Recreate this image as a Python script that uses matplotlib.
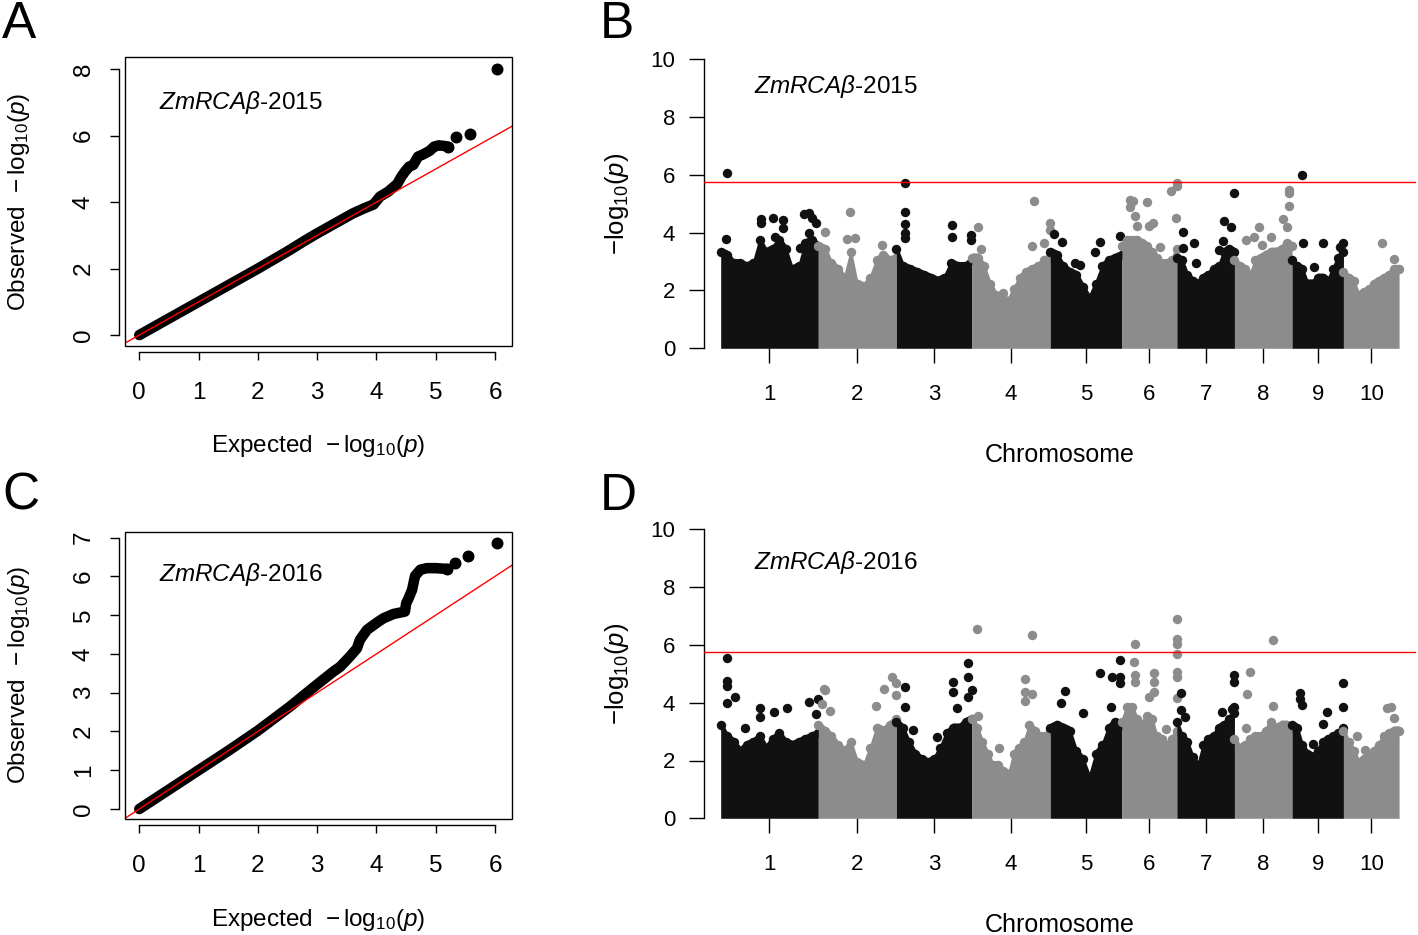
import numpy as np
import matplotlib
matplotlib.use("Agg")
import matplotlib.pyplot as plt
from matplotlib.patches import Rectangle

plt.rcParams['font.family'] = ['Liberation Sans', 'DejaVu Sans']
plt.rcParams['mathtext.fontset'] = 'custom'
plt.rcParams['mathtext.rm'] = 'Liberation Sans'
plt.rcParams['mathtext.it'] = 'Liberation Sans:italic'
plt.rcParams['mathtext.bf'] = 'Liberation Sans:bold'

# ---------------- data ----------------
# QQ plot 2015 (expected, observed -log10 p)
qq2015_expected = [0, 0.5, 1.0, 1.5, 2.0, 2.5, 2.8, 3.0, 3.3, 3.6, 3.8, 3.95, 4.06, 4.2, 4.35,
                   4.42, 4.48, 4.55, 4.62, 4.7, 4.8, 4.9, 4.97, 5.05, 5.15, 5.2]
qq2015_observed = [0, 0.5, 1.0, 1.5, 2.0, 2.52, 2.85, 3.06, 3.36, 3.66, 3.82, 3.93, 4.17, 4.32, 4.55,
                   4.77, 4.92, 5.07, 5.12, 5.37, 5.45, 5.55, 5.67, 5.71, 5.69, 5.67]
qq2015_top_expected = [5.34, 5.57, 6.04]
qq2015_top_observed = [5.97, 6.04, 8.01]

# QQ plot 2016
qq2016_expected = [0, 0.5, 1.0, 1.5, 2.0, 2.54, 2.99, 3.27, 3.39, 3.55, 3.67, 3.72, 3.84, 4.03, 4.12,
                   4.29, 4.48, 4.5, 4.54, 4.6, 4.65, 4.74, 4.85, 5.0, 5.19]
qq2016_observed = [0, 0.5, 1.0, 1.5, 2.02, 2.64, 3.2, 3.54, 3.67, 3.93, 4.14, 4.36, 4.62, 4.83, 4.92,
                   5.03, 5.09, 5.3, 5.43, 5.65, 6.01, 6.17, 6.21, 6.21, 6.19]
qq2016_top_expected = [5.33, 5.55, 6.03]
qq2016_top_observed = [6.34, 6.53, 6.87]

# Manhattan plots
chromosomes = ['1', '2', '3', '4', '5', '6', '7', '8', '9', '10']
chrom_length_mb = [300, 240, 232, 241, 220, 169, 177, 177, 158, 171]
threshold = 5.76

# upper edge of the dense SNP cloud, evenly spaced along each chromosome
cloud_top_2015 = [
    [3.5, 3.4, 3.1, 3.1, 3.0, 3.1, 3.9, 3.5, 3.6, 3.9, 3.6, 2.9, 3.0, 3.8, 3.9, 3.7],
    [3.7, 3.6, 3.1, 2.9, 2.6, 3.5, 2.4, 2.3, 2.6, 3.2, 3.4, 3.2, 3.3],
    [3.6, 3.0, 2.9, 2.8, 2.7, 2.6, 2.5, 2.6, 3.1, 3.0, 3.0, 3.2],
    [3.3, 3.3, 3.0, 2.4, 2.0, 1.85, 1.8, 2.2, 2.6, 2.8, 2.9, 3.0, 3.2, 3.3],
    [3.5, 3.4, 3.0, 2.8, 2.7, 2.3, 1.9, 2.4, 3.0, 3.2, 3.3, 3.4],
    [3.7, 3.9, 3.9, 3.9, 3.8, 3.7, 3.5, 3.3, 3.1, 3.1, 3.2, 3.6],
    [3.3, 3.2, 2.7, 2.5, 2.4, 2.6, 2.7, 2.9, 3.0, 3.5, 3.6, 3.5],
    [3.2, 3.0, 2.9, 2.7, 3.2, 3.3, 3.4, 3.5, 3.5, 3.6, 3.8, 3.7],
    [3.2, 3.0, 2.9, 2.4, 2.4, 2.6, 2.6, 2.5, 2.9, 3.3, 3.5],
    [2.8, 2.6, 2.5, 2.0, 2.1, 2.2, 2.4, 2.5, 2.6, 2.7, 2.9, 2.9],
]
cloud_top_2016 = [
    [3.4, 3.0, 2.8, 2.5, 2.7, 2.8, 3.0, 2.6, 2.9, 3.1, 2.8, 2.7, 2.8, 2.9, 3.0, 3.1],
    [3.4, 3.2, 3.0, 2.7, 2.5, 2.8, 2.1, 2.0, 2.6, 3.3, 3.2, 3.4, 3.6],
    [3.5, 3.3, 2.8, 2.4, 2.2, 2.1, 2.2, 2.6, 3.1, 3.3, 3.3, 3.5, 3.6],
    [3.6, 3.3, 2.8, 2.4, 2.0, 2.0, 1.8, 1.7, 2.4, 2.6, 2.8, 3.4, 3.2, 3.0, 3.0, 3.2],
    [3.3, 3.4, 3.3, 3.2, 2.5, 2.2, 1.6, 2.4, 2.7, 3.3, 3.5, 3.4],
    [3.5, 4.0, 4.0, 3.6, 3.4, 3.7, 3.6, 3.0, 2.9, 2.7, 2.9, 3.2],
    [3.5, 3.0, 2.8, 2.3, 2.0, 2.7, 2.9, 3.0, 3.3, 3.4, 3.6, 3.8],
    [2.9, 2.6, 2.7, 2.9, 3.0, 3.0, 3.2, 3.5, 3.3, 3.4, 3.4, 3.3],
    [3.4, 3.3, 2.7, 2.4, 2.3, 2.5, 2.8, 2.9, 3.0, 3.1, 3.3],
    [3.2, 2.8, 2.5, 2.1, 2.2, 2.3, 2.5, 2.7, 3.0, 3.1, 3.2, 3.2],
]

# individual SNPs standing above the cloud: chromosome, position (Mb), -log10(p)
snp2015_chr = [1]*14 + [2]*5 + [3]*9 + [4]*8 + [5]*7 + [6]*13 + [7]*9 + [8]*10 + [9]*6 + [10]*2
snp2015_pos = [18, 16, 125, 125, 161, 191, 191, 166, 255, 271, 281, 293, 272, 245,
               96, 88, 112, 20, 196,
               25, 25, 25, 25, 25, 172, 172, 230, 230,
               192, 20, 29, 184, 223, 240, 240, 97,
               10, 36, 77, 92, 154, 138, 215,
               25, 34, 25, 77, 39, 46, 97, 82, 118, 152, 168, 168, 166,
               20, 177, 145, 166, 20, 53, 59, 141, 128,
               168, 168, 168, 148, 163, 77, 36, 60, 113, 84,
               30, 33, 96, 68, 148, 158,
               118, 154]
snp2015_val = [6.07, 3.77, 4.46, 4.34, 4.49, 4.44, 4.15, 3.84, 4.63, 4.67, 4.49, 4.32, 4.0, 3.45,
               4.72, 3.77, 3.82, 4.03, 3.57,
               5.70, 4.72, 4.29, 4.0, 3.8, 4.26, 3.84, 3.92, 3.74,
               5.10, 4.2, 3.42, 3.54, 3.65, 4.34, 4.09, 1.9,
               3.95, 3.68, 2.94, 2.88, 3.69, 3.34, 3.89,
               5.13, 5.09, 4.87, 5.05, 4.57, 4.23, 4.34, 4.23, 3.5, 5.42, 5.72, 5.60, 4.52,
               4.03, 5.38, 4.41, 4.2, 3.48, 3.65, 2.94, 3.72, 3.4,
               5.47, 5.36, 4.92, 4.46, 4.2, 4.18, 3.74, 3.84, 3.84, 3.57,
               6.0, 3.65, 3.63, 2.82, 3.5, 3.65,
               3.63, 3.07]

snp2016_chr = [1]*13 + [2]*9 + [3]*11 + [4]*8 + [5]*9 + [6]*16 + [7]*8 + [8]*5 + [9]*8 + [10]*5
snp2016_pos = [20, 18, 20, 45, 18, 122, 122, 165, 204, 272, 300, 293, 76,
               21, 16, 11, 37, 177, 203, 227, 238, 238,
               25, 25, 52, 124, 175, 175, 221, 221, 232, 220, 185,
               15, 184, 164, 164, 164, 186, 82, 18,
               46, 34, 102, 154, 190, 215, 215, 215, 188,
               39, 36, 39, 41, 100, 100, 100, 82, 135, 169, 169, 169, 169, 169, 169, 169,
               12, 12, 26, 138, 169, 177, 177, 177,
               48, 40, 118, 118, 34,
               25, 24, 30, 64, 107, 96, 158, 158,
               43, 67, 133, 146, 154]
snp2016_val = [5.56, 4.76, 4.58, 4.21, 4.0, 3.81, 3.52, 3.69, 3.81, 4.04, 4.12, 3.61, 3.11,
               4.44, 4.46, 3.95, 3.73, 3.9, 4.47, 4.88, 4.69, 4.27,
               4.56, 3.84, 3.06, 2.8, 4.73, 4.38, 5.36, 4.9, 4.44, 4.21, 3.8,
               6.54, 6.34, 4.81, 4.38, 4.07, 4.3, 2.42, 3.54,
               4.42, 3.98, 3.66, 5.02, 4.9, 5.48, 4.9, 4.67, 3.84,
               6.02, 5.4, 4.96, 4.7, 5.04, 4.73, 4.38, 4.21, 3.08, 6.88, 6.19, 6.02, 5.67, 5.07, 4.9, 4.15,
               4.32, 3.75, 3.52, 3.69, 3.77, 4.96, 4.73, 3.86,
               5.07, 4.3, 6.17, 3.9, 3.11,
               4.35, 4.12, 3.92, 2.56, 3.69, 3.26, 4.69, 3.84,
               2.85, 2.36, 3.8, 3.84, 3.46]

# ---------------- figure ----------------
W, H = 1418, 935
fig = plt.figure(figsize=(W / 100, H / 100), dpi=100)


def rect(l, t, r, b):
    return [l / W, 1 - b / H, (r - l) / W, (b - t) / H]


def fx(x):
    return x / W


def fy(y):
    return 1 - y / H


BLACK = '#111111'
GRAY = '#8c8c8c'
TICK_FS_QQ = 17.5
LABEL_FS = 17.5
TITLE_FS = 17.5


def qq_panel(box, exp, obs, top_exp, top_obs, ylim, yticks, title, title_xy):
    ax = fig.add_axes(box)
    ax.set_facecolor('none')
    ax.set_xlim(-0.241, 6.28)
    ax.set_ylim(*ylim)
    ax.plot(exp, obs, color='black', lw=7.6, solid_capstyle='round',
            solid_joinstyle='round', zorder=2)
    ax.plot(exp[-1:], obs[-1:], 'o', color='black', ms=7.6, zorder=2)
    ax.plot(top_exp, top_obs, 'o', color='black', ms=7.6, zorder=2, clip_on=False)
    ax.axline((0, 0), slope=1, color='red', lw=1.0, zorder=3)
    ax.add_patch(Rectangle((0, 0), 1, 1, transform=ax.transAxes, fill=False,
                           lw=1.0, ec='black', clip_on=False, zorder=4))
    for s in ['top', 'right']:
        ax.spines[s].set_visible(False)
    for s in ['left', 'bottom']:
        ax.spines[s].set_position(('outward', 4.3))
        ax.spines[s].set_linewidth(1.0)
    ax.set_xticks(range(7))
    ax.set_yticks(yticks)
    ax.spines['bottom'].set_bounds(0, 6)
    ax.spines['left'].set_bounds(yticks[0], yticks[-1])
    ax.tick_params(axis='x', length=6, width=1.0, pad=15.5, labelsize=TICK_FS_QQ)
    ax.tick_params(axis='y', length=6.5, width=1.0, pad=11, labelsize=TICK_FS_QQ,
                   labelrotation=90)
    for lab in ax.get_yticklabels():
        lab.set_va('center')
    ax.text(title_xy[0], title_xy[1], title, transform=ax.transAxes,
            fontsize=TITLE_FS, ha='left', va='baseline')
    return ax


qq_panel(rect(125, 57.3, 511.7, 345.7), qq2015_expected, qq2015_observed,
         qq2015_top_expected, qq2015_top_observed, (-0.32, 8.36), [0, 2, 4, 6, 8],
         r'$ZmRCAβ$-2015', (0.0887, 0.8197))
qq_panel(rect(125, 531.7, 511.7, 819), qq2016_expected, qq2016_observed,
         qq2016_top_expected, qq2016_top_observed, (-0.258, 7.15), list(range(8)),
         r'$ZmRCAβ$-2016', (0.0887, 0.8284))

cum_start = np.concatenate([[0], np.cumsum(chrom_length_mb)[:-1]])
mids = cum_start + np.array(chrom_length_mb) / 2.0
R_DATA = 0.165  # marker radius in -log10(p) units


def manhattan_panel(box, cloud, s_chr, s_pos, s_val, title, title_xy):
    ax = fig.add_axes(box)
    ax.set_xlim(-51.3, 2137)
    ax.set_ylim(0, 10)
    for i, L in enumerate(chrom_length_mb):
        col = BLACK if i % 2 == 0 else GRAY
        top = np.array(cloud[i])
        xs = cum_start[i] + np.linspace(0, L, len(top))
        ax.fill_between(xs, 0, top, color=col, lw=0, zorder=2)
        ax.scatter(xs, top - R_DATA, s=46, color=col, lw=0, zorder=2)
        sel = [k for k, c in enumerate(s_chr) if c == i + 1]
        px = [cum_start[i] + s_pos[k] for k in sel]
        py = [s_val[k] for k in sel]
        ax.scatter(px, py, s=46, color=col, lw=0, zorder=2)
    ax.axhline(threshold, color='red', lw=1.0, zorder=3)
    for s in ['top', 'right', 'bottom']:
        ax.spines[s].set_visible(False)
    ax.spines['left'].set_linewidth(1.0)
    ax.set_yticks(range(0, 11, 2))
    ax.spines['left'].set_bounds(0, 10)
    ax.set_xticks(mids)
    ax.set_xticklabels(chromosomes)
    ax.tick_params(axis='x', length=10.8, width=1.0, pad=15, labelsize=16)
    ax.tick_params(axis='y', length=10.8, width=1.0, pad=10, labelsize=16)
    ax.text(title_xy[0], title_xy[1], title, transform=ax.transAxes,
            fontsize=TITLE_FS, ha='left', va='baseline')
    return ax


manhattan_panel(rect(704, 59, 1416, 348.3), cloud_top_2015, snp2015_chr, snp2015_pos,
                snp2015_val, r'$ZmRCAβ$-2015', (0.0702, 0.8814))
manhattan_panel(rect(704, 529.3, 1416, 818.3), cloud_top_2016, snp2016_chr, snp2016_pos,
                snp2016_val, r'$ZmRCAβ$-2016', (0.0702, 0.8626))

# axis labels
qq_x = r'Expected  $-\,\mathrm{log}_{10}(p)$'
qq_y = r'Observed  $-\,\mathrm{log}_{10}(p)$'
fig.text(fx(318), fy(452.3), qq_x, fontsize=LABEL_FS, ha='center', va='baseline')
fig.text(fx(318), fy(926), qq_x, fontsize=LABEL_FS, ha='center', va='baseline')
fig.text(fx(25), fy(201.5), qq_y, fontsize=LABEL_FS, ha='center', va='baseline',
         rotation=90, rotation_mode='anchor')
fig.text(fx(25), fy(675), qq_y, fontsize=LABEL_FS, ha='center', va='baseline',
         rotation=90, rotation_mode='anchor')
mh_y = r'$-\mathrm{log}_{10}(p)$'
fig.text(fx(624), fy(204), mh_y, fontsize=18.5, ha='center', va='baseline',
         rotation=90, rotation_mode='anchor')
fig.text(fx(624), fy(674), mh_y, fontsize=18.5, ha='center', va='baseline',
         rotation=90, rotation_mode='anchor')
fig.text(fx(1060), fy(461.7), 'Chromosome', fontsize=18, ha='center', va='baseline')
fig.text(fx(1060), fy(931.7), 'Chromosome', fontsize=18, ha='center', va='baseline')

# panel letters
for letter, (x, y) in zip('ABCD', [(2, 38), (600, 38), (2, 510), (600, 510)]):
    fig.text(fx(x), fy(y), letter, fontsize=37, ha='left', va='baseline')

fig.savefig('out.png', dpi=100)
